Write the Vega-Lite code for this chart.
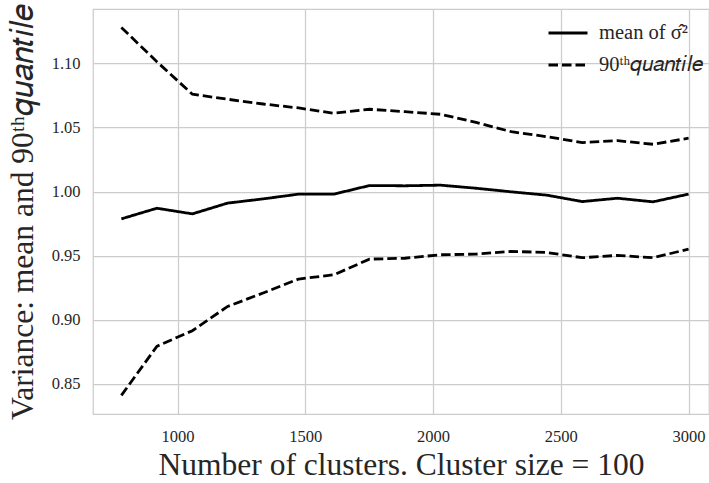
{
  "$schema": "https://vega.github.io/schema/vega-lite/v6.json",
  "width": 616,
  "height": 405,
  "autosize": {"type": "none"},
  "padding": {"left": 93, "top": 9, "right": 0, "bottom": 69},
  "background": "white",
  "config": {
    "view": {"stroke": "#cccccc", "strokeWidth": 1.25},
    "font": "Liberation Serif"
  },
  "data": {
    "values": [
      {"n": 780, "v": 0.9787, "stat": "mean of σ̂²", "band": "mean"},
      {"n": 919, "v": 0.987, "stat": "mean of σ̂²", "band": "mean"},
      {"n": 1058, "v": 0.9826, "stat": "mean of σ̂²", "band": "mean"},
      {"n": 1196, "v": 0.991, "stat": "mean of σ̂²", "band": "mean"},
      {"n": 1335, "v": 0.9943, "stat": "mean of σ̂²", "band": "mean"},
      {"n": 1474, "v": 0.998, "stat": "mean of σ̂²", "band": "mean"},
      {"n": 1612, "v": 0.998, "stat": "mean of σ̂²", "band": "mean"},
      {"n": 1751, "v": 1.0047, "stat": "mean of σ̂²", "band": "mean"},
      {"n": 1890, "v": 1.0045, "stat": "mean of σ̂²", "band": "mean"},
      {"n": 2029, "v": 1.005, "stat": "mean of σ̂²", "band": "mean"},
      {"n": 2168, "v": 1.0026, "stat": "mean of σ̂²", "band": "mean"},
      {"n": 2306, "v": 0.9998, "stat": "mean of σ̂²", "band": "mean"},
      {"n": 2445, "v": 0.9972, "stat": "mean of σ̂²", "band": "mean"},
      {"n": 2584, "v": 0.9922, "stat": "mean of σ̂²", "band": "mean"},
      {"n": 2722, "v": 0.9948, "stat": "mean of σ̂²", "band": "mean"},
      {"n": 2861, "v": 0.992, "stat": "mean of σ̂²", "band": "mean"},
      {"n": 3000, "v": 0.998, "stat": "mean of σ̂²", "band": "mean"},
      {"n": 780, "v": 1.128, "stat": "90ᵗʰ𝑞𝑢𝑎𝑛𝑡𝑖𝑙𝑒", "band": "upper"},
      {"n": 919, "v": 1.1013, "stat": "90ᵗʰ𝑞𝑢𝑎𝑛𝑡𝑖𝑙𝑒", "band": "upper"},
      {"n": 1058, "v": 1.0759, "stat": "90ᵗʰ𝑞𝑢𝑎𝑛𝑡𝑖𝑙𝑒", "band": "upper"},
      {"n": 1196, "v": 1.072, "stat": "90ᵗʰ𝑞𝑢𝑎𝑛𝑡𝑖𝑙𝑒", "band": "upper"},
      {"n": 1335, "v": 1.0683, "stat": "90ᵗʰ𝑞𝑢𝑎𝑛𝑡𝑖𝑙𝑒", "band": "upper"},
      {"n": 1474, "v": 1.0652, "stat": "90ᵗʰ𝑞𝑢𝑎𝑛𝑡𝑖𝑙𝑒", "band": "upper"},
      {"n": 1612, "v": 1.0611, "stat": "90ᵗʰ𝑞𝑢𝑎𝑛𝑡𝑖𝑙𝑒", "band": "upper"},
      {"n": 1751, "v": 1.0642, "stat": "90ᵗʰ𝑞𝑢𝑎𝑛𝑡𝑖𝑙𝑒", "band": "upper"},
      {"n": 1890, "v": 1.0623, "stat": "90ᵗʰ𝑞𝑢𝑎𝑛𝑡𝑖𝑙𝑒", "band": "upper"},
      {"n": 2029, "v": 1.0603, "stat": "90ᵗʰ𝑞𝑢𝑎𝑛𝑡𝑖𝑙𝑒", "band": "upper"},
      {"n": 2168, "v": 1.054, "stat": "90ᵗʰ𝑞𝑢𝑎𝑛𝑡𝑖𝑙𝑒", "band": "upper"},
      {"n": 2306, "v": 1.0467, "stat": "90ᵗʰ𝑞𝑢𝑎𝑛𝑡𝑖𝑙𝑒", "band": "upper"},
      {"n": 2445, "v": 1.0428, "stat": "90ᵗʰ𝑞𝑢𝑎𝑛𝑡𝑖𝑙𝑒", "band": "upper"},
      {"n": 2584, "v": 1.0382, "stat": "90ᵗʰ𝑞𝑢𝑎𝑛𝑡𝑖𝑙𝑒", "band": "upper"},
      {"n": 2722, "v": 1.0397, "stat": "90ᵗʰ𝑞𝑢𝑎𝑛𝑡𝑖𝑙𝑒", "band": "upper"},
      {"n": 2861, "v": 1.0369, "stat": "90ᵗʰ𝑞𝑢𝑎𝑛𝑡𝑖𝑙𝑒", "band": "upper"},
      {"n": 3000, "v": 1.0416, "stat": "90ᵗʰ𝑞𝑢𝑎𝑛𝑡𝑖𝑙𝑒", "band": "upper"},
      {"n": 780, "v": 0.841, "stat": "90ᵗʰ𝑞𝑢𝑎𝑛𝑡𝑖𝑙𝑒", "band": "lower"},
      {"n": 919, "v": 0.8793, "stat": "90ᵗʰ𝑞𝑢𝑎𝑛𝑡𝑖𝑙𝑒", "band": "lower"},
      {"n": 1058, "v": 0.8915, "stat": "90ᵗʰ𝑞𝑢𝑎𝑛𝑡𝑖𝑙𝑒", "band": "lower"},
      {"n": 1196, "v": 0.9104, "stat": "90ᵗʰ𝑞𝑢𝑎𝑛𝑡𝑖𝑙𝑒", "band": "lower"},
      {"n": 1335, "v": 0.9209, "stat": "90ᵗʰ𝑞𝑢𝑎𝑛𝑡𝑖𝑙𝑒", "band": "lower"},
      {"n": 1474, "v": 0.9318, "stat": "90ᵗʰ𝑞𝑢𝑎𝑛𝑡𝑖𝑙𝑒", "band": "lower"},
      {"n": 1612, "v": 0.9351, "stat": "90ᵗʰ𝑞𝑢𝑎𝑛𝑡𝑖𝑙𝑒", "band": "lower"},
      {"n": 1751, "v": 0.9473, "stat": "90ᵗʰ𝑞𝑢𝑎𝑛𝑡𝑖𝑙𝑒", "band": "lower"},
      {"n": 1890, "v": 0.948, "stat": "90ᵗʰ𝑞𝑢𝑎𝑛𝑡𝑖𝑙𝑒", "band": "lower"},
      {"n": 2029, "v": 0.9507, "stat": "90ᵗʰ𝑞𝑢𝑎𝑛𝑡𝑖𝑙𝑒", "band": "lower"},
      {"n": 2168, "v": 0.9512, "stat": "90ᵗʰ𝑞𝑢𝑎𝑛𝑡𝑖𝑙𝑒", "band": "lower"},
      {"n": 2306, "v": 0.9533, "stat": "90ᵗʰ𝑞𝑢𝑎𝑛𝑡𝑖𝑙𝑒", "band": "lower"},
      {"n": 2445, "v": 0.9525, "stat": "90ᵗʰ𝑞𝑢𝑎𝑛𝑡𝑖𝑙𝑒", "band": "lower"},
      {"n": 2584, "v": 0.9484, "stat": "90ᵗʰ𝑞𝑢𝑎𝑛𝑡𝑖𝑙𝑒", "band": "lower"},
      {"n": 2722, "v": 0.9502, "stat": "90ᵗʰ𝑞𝑢𝑎𝑛𝑡𝑖𝑙𝑒", "band": "lower"},
      {"n": 2861, "v": 0.9484, "stat": "90ᵗʰ𝑞𝑢𝑎𝑛𝑡𝑖𝑙𝑒", "band": "lower"},
      {"n": 3000, "v": 0.9551, "stat": "90ᵗʰ𝑞𝑢𝑎𝑛𝑡𝑖𝑙𝑒", "band": "lower"}
    ]
  },
  "mark": {"type": "line", "color": "black", "strokeWidth": 2.8, "clip": true},
  "encoding": {
    "x": {
      "field": "n", "type": "quantitative",
      "scale": {"domain": [669, 3080], "nice": false, "zero": false},
      "axis": {
        "values": [1000, 1500, 2000, 2500, 3000], "format": "d",
        "domain": false, "ticks": false, "gridColor": "#cccccc", "gridWidth": 1.25,
        "labelFontSize": 16.5, "labelColor": "#262626", "labelPadding": 14,
        "labelFont": "Liberation Serif",
        "title": "Number of clusters. Cluster size = 100",
        "titleFont": "Liberation Serif", "titleFontSize": 31.5, "titleFontWeight": "normal",
        "titleColor": "#262626", "titlePadding": 5
      }
    },
    "y": {
      "field": "v", "type": "quantitative",
      "scale": {"domain": [0.8265, 1.1424], "nice": false, "zero": false},
      "axis": {
        "values": [0.85, 0.9, 0.95, 1.0, 1.05, 1.1], "format": ".2f",
        "domain": false, "ticks": false, "gridColor": "#cccccc", "gridWidth": 1.25,
        "labelFontSize": 16.5, "labelColor": "#262626", "labelPadding": 13,
        "labelFont": "Liberation Serif",
        "title": "Variance: mean and 90ᵗʰ𝑞𝑢𝑎𝑛𝑡𝑖𝑙𝑒",
        "titleFont": "Liberation Serif", "titleFontSize": 31.5, "titleFontWeight": "normal",
        "titleColor": "#262626", "titlePadding": 12
      }
    },
    "strokeDash": {
      "field": "stat", "type": "nominal",
      "scale": {"domain": ["mean of σ̂²", "90ᵗʰ𝑞𝑢𝑎𝑛𝑡𝑖𝑙𝑒"], "range": [[1, 0], [9.5, 4]]},
      "legend": {
        "orient": "none", "legendX": 449, "legendY": -2, "padding": 5, "title": null,
        "symbolType": "stroke", "symbolSize": 1521, "symbolStrokeWidth": 2.8,
        "symbolStrokeColor": "black",
        "labelFont": "Liberation Serif", "labelFontSize": 20.5, "labelColor": "#262626",
        "labelOffset": 10, "rowPadding": -6
      }
    },
    "detail": {"field": "band", "type": "nominal"}
  }
}
